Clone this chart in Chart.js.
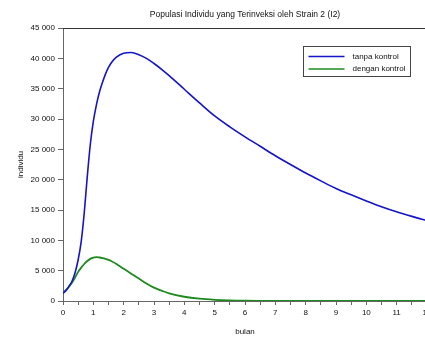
<!DOCTYPE html>
<html>
<head>
<meta charset="utf-8">
<script src="https://cdn.jsdelivr.net/npm/chart.js@4/dist/chart.umd.min.js"></script>
<style>
  html, body { margin: 0; padding: 0; background: #fff; overflow: hidden; width: 425px; height: 337px; }
  #wrap { width: 440px; height: 337px; }
</style>
</head>
<body>
<div id="wrap"><canvas id="c" width="440" height="337"></canvas></div>
<script>
const chartTitle = "Populasi Individu yang Terinveksi oleh Strain 2 (I2)";
const xTitle = "bulan";
const yTitle = "individu";
const seriesNames = ["tanpa kontrol", "dengan kontrol"];

const bulan = [0, 0.1, 0.2, 0.3, 0.4, 0.5, 0.6, 0.7, 0.8, 0.9, 1.0, 1.1, 1.2, 1.3, 1.4, 1.5, 1.6, 1.75, 2.0, 2.25, 2.5, 2.75, 3.0, 3.25, 3.5, 4.0, 4.5, 5.0, 5.5, 6.0, 6.5, 7, 7.5, 8, 8.5, 9, 9.5, 10, 10.5, 11, 11.5, 12];

const tanpaKontrol = [1300, 1750, 2450, 3300, 4700, 6800, 9800, 14500, 20500, 25800, 29600, 32300, 34400, 36000, 37400, 38500, 39300, 40150, 40850, 40950, 40600, 40000, 39150, 38200, 37150, 34900, 32650, 30500, 28700, 27050, 25500, 23950, 22500, 21100, 19800, 18550, 17500, 16500, 15550, 14700, 13950, 13250];

const denganKontrol = [1300, 1800, 2350, 3050, 3900, 4800, 5500, 6100, 6600, 6950, 7150, 7220, 7170, 7080, 6950, 6780, 6550, 6150, 5300, 4500, 3700, 2900, 2200, 1700, 1250, 700, 380, 200, 100, 50, 25, 10, 5, 0, 0, 0, 0, 0, 0, 0, 0, 0];

const yTicks = [0, 5000, 10000, 15000, 20000, 25000, 30000, 35000, 40000, 45000];

const colors = ["#1414c8", "#1e8a1e"];
const FONT = "'Liberation Sans', Arial, sans-serif";

function fmt(v) {
  return String(Math.round(v)).replace(/\B(?=(\d{3})+(?!\d))/g, " ");
}

const frameAndLegend = {
  id: 'frameAndLegend',
  afterDraw(chart) {
    const ctx = chart.ctx;
    const a = chart.chartArea;
    ctx.save();
    ctx.strokeStyle = '#333';
    ctx.lineWidth = 1;
    ctx.beginPath();
    ctx.moveTo(a.left, Math.round(a.top) + 0.5);
    ctx.lineTo(a.right, Math.round(a.top) + 0.5);
    ctx.stroke();
    const bx = 303.5, by = 46.5, bw = 107, bh = 30;
    ctx.fillStyle = '#fff';
    ctx.fillRect(bx, by, bw, bh);
    ctx.strokeStyle = '#444';
    ctx.strokeRect(bx, by, bw, bh);
    ctx.font = '8px ' + FONT;
    ctx.textBaseline = 'middle';
    ctx.textAlign = 'left';
    chart.data.datasets.forEach((ds, i) => {
      const y = by + 10 + i * 12.5;
      ctx.strokeStyle = ds.borderColor;
      ctx.lineWidth = 1.6;
      ctx.beginPath();
      ctx.moveTo(bx + 5, y);
      ctx.lineTo(bx + 41, y);
      ctx.stroke();
      ctx.fillStyle = '#111';
      ctx.fillText(ds.label, bx + 49, y);
    });
    ctx.restore();
  }
};

new Chart(document.getElementById('c'), {
  type: 'line',
  data: {
    datasets: [
      {
        label: seriesNames[0],
        data: bulan.map((x, i) => ({ x: x, y: tanpaKontrol[i] })),
        borderColor: colors[0],
        borderWidth: 1.6,
        pointRadius: 0,
        fill: false,
        cubicInterpolationMode: 'monotone'
      },
      {
        label: seriesNames[1],
        data: bulan.map((x, i) => ({ x: x, y: denganKontrol[i] })),
        borderColor: colors[1],
        borderWidth: 1.8,
        pointRadius: 0,
        fill: false,
        cubicInterpolationMode: 'monotone'
      }
    ]
  },
  options: {
    responsive: false,
    animation: false,
    devicePixelRatio: 1,
    layout: { padding: { left: 0, right: 13, top: 0, bottom: 0 } },
    plugins: {
      legend: { display: false },
      tooltip: { enabled: false },
      title: {
        display: true,
        text: chartTitle,
        fullSize: false,
        color: '#111',
        font: { family: FONT, size: 8.5, weight: 'normal', lineHeight: 1.2 },
        padding: { top: 10, bottom: 7.8 }
      }
    },
    scales: {
      x: {
        type: 'linear',
        min: 0,
        max: 12,
        border: { display: true, color: '#666', width: 1 },
        grid: { display: true, drawOnChartArea: false, drawTicks: true, tickLength: 4, color: '#666' },
        ticks: {
          stepSize: 0.5,
          autoSkip: false,
          maxRotation: 0,
          padding: 3,
          color: '#111',
          font: { family: FONT, size: 8 },
          callback: (v) => Number.isInteger(v) ? String(v) : ''
        },
        title: {
          display: true,
          text: xTitle,
          color: '#111',
          font: { family: FONT, size: 8 },
          padding: { top: 4, bottom: 0 }
        },
        afterFit: (s) => { s.height = 36; }
      },
      y: {
        type: 'linear',
        min: 0,
        max: 45000,
        border: { display: true, color: '#666', width: 1 },
        grid: { display: true, drawOnChartArea: false, drawTicks: true, tickLength: 5, color: '#666' },
        afterBuildTicks: (s) => { s.ticks = yTicks.map(v => ({ value: v })); },
        ticks: {
          padding: 3,
          color: '#111',
          font: { family: FONT, size: 8 },
          callback: (v) => fmt(v)
        },
        title: {
          display: true,
          text: yTitle,
          color: '#111',
          font: { family: FONT, size: 8 },
          padding: { top: 16, bottom: 0 }
        },
        afterFit: (s) => { s.width = 63; }
      }
    }
  },
  plugins: [frameAndLegend]
});
</script>
</body>
</html>
